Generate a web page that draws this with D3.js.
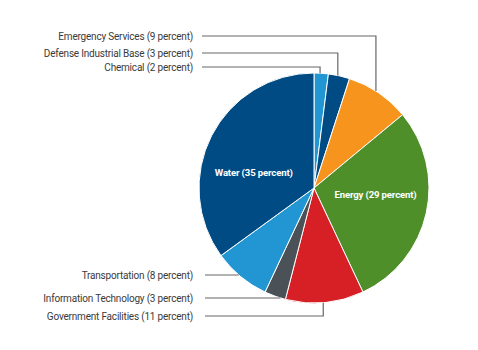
<!DOCTYPE html>
<html>
<head>
<meta charset="utf-8">
<script src="https://cdn.jsdelivr.net/npm/d3@7/dist/d3.min.js"></script>
<style>
  html, body { margin: 0; padding: 0; background: #ffffff; }
  svg { display: block; }
</style>
</head>
<body>
<svg id="chart" width="478" height="350"></svg>
<script>
// ---- data ----
const categories = ["Chemical", "Defense Industrial Base", "Emergency Services", "Energy",
  "Government Facilities", "Information Technology", "Transportation", "Water"];
const values = [2, 3, 9, 29, 11, 3, 8, 35];
const colors = ["#2196d3", "#004b83", "#f7941d", "#4f8f2a", "#d71f26", "#4b5257", "#2196d3", "#004b83"];
const outsideLeft = ["Emergency Services", "Defense Industrial Base", "Chemical"];
const outsideBottom = ["Transportation", "Information Technology", "Government Facilities"];
const insideLabels = ["Water", "Energy"];

const W = 478, H = 350;
const cx = 314, cy = 188, R = 115;
const svg = d3.select("#chart");
const g = svg.append("g").attr("transform", `translate(${cx},${cy})`);

const pie = d3.pie().sort(null).value(d => d.value);
const data = categories.map((c, i) => ({ name: c, value: values[i], color: colors[i] }));
const arcs = pie(data);
const arc = d3.arc().innerRadius(0).outerRadius(R);

g.selectAll("path.slice").data(arcs).join("path")
  .attr("class", "slice")
  .attr("d", arc)
  .attr("fill", d => d.data.color)
  .attr("stroke", "#ffffff")
  .attr("stroke-width", 1);

const label = d => `${d.data.name} (${d.data.value} percent)`;
const textX = 193;
const lineStart = 202;
const leaderFrac = { "Emergency Services": 0.45, "Defense Industrial Base": 0.44, "Chemical": 0.42, "Government Facilities": 0.52 };

const topRows = [36, 53, 67];
outsideLeft.forEach((name, i) => {
  const a = arcs.find(d => d.data.name === name);
  const ang = a.startAngle + (a.endAngle - a.startAngle) * leaderFrac[name];
  const px = cx + R * Math.sin(ang), py = cy - R * Math.cos(ang);
  const y = topRows[i];
  svg.append("path")
    .attr("d", `M${lineStart},${y}H${px}V${py}`)
    .attr("fill", "none").attr("stroke", "#666666").attr("stroke-width", 1.2);
  svg.append("text").attr("x", textX).attr("y", y + 3.6)
    .attr("text-anchor", "end").attr("class", "out").text(label(a));
});

const botRows = [275, 298, 316];
outsideBottom.forEach((name, i) => {
  const a = arcs.find(d => d.data.name === name);
  const y = botRows[i];
  let path;
  if (name === "Government Facilities") {
    const ang = a.startAngle + (a.endAngle - a.startAngle) * leaderFrac[name];
    const px = cx + R * Math.sin(ang), py = cy - R * Math.cos(ang);
    path = `M${lineStart + 3},${y}H${px}V${py}`;
  } else {
    const dy = y - cy;
    const px = cx - Math.sqrt(R * R - dy * dy);
    path = `M${lineStart + 3},${y}H${px}`;
  }
  svg.append("path").attr("d", path)
    .attr("fill", "none").attr("stroke", "#666666").attr("stroke-width", 1.2);
  svg.append("text").attr("x", textX).attr("y", y + 3.6)
    .attr("text-anchor", "end").attr("class", "out").text(label(a));
});

svg.selectAll("text.out")
  .attr("font-family", "Roboto, 'Liberation Sans', sans-serif")
  .attr("font-size", 10)
  .attr("letter-spacing", -0.2)
  .attr("fill", "#3a3a3a");

const labelArc = d3.arc().innerRadius(62).outerRadius(62);
const inShift = { "Water": [-5, 16], "Energy": [1, -4] };
insideLabels.forEach(name => {
  const a = arcs.find(d => d.data.name === name);
  const [x, y] = labelArc.centroid(a);
  g.append("text")
    .attr("x", x + inShift[name][0]).attr("y", y + inShift[name][1])
    .attr("text-anchor", "middle")
    .attr("font-family", "Roboto, 'Liberation Sans', sans-serif")
    .attr("font-weight", "bold")
    .attr("font-size", 9.6)
    .attr("letter-spacing", -0.15)
    .attr("fill", "#ffffff")
    .text(label(a));
});
</script>
</body>
</html>
